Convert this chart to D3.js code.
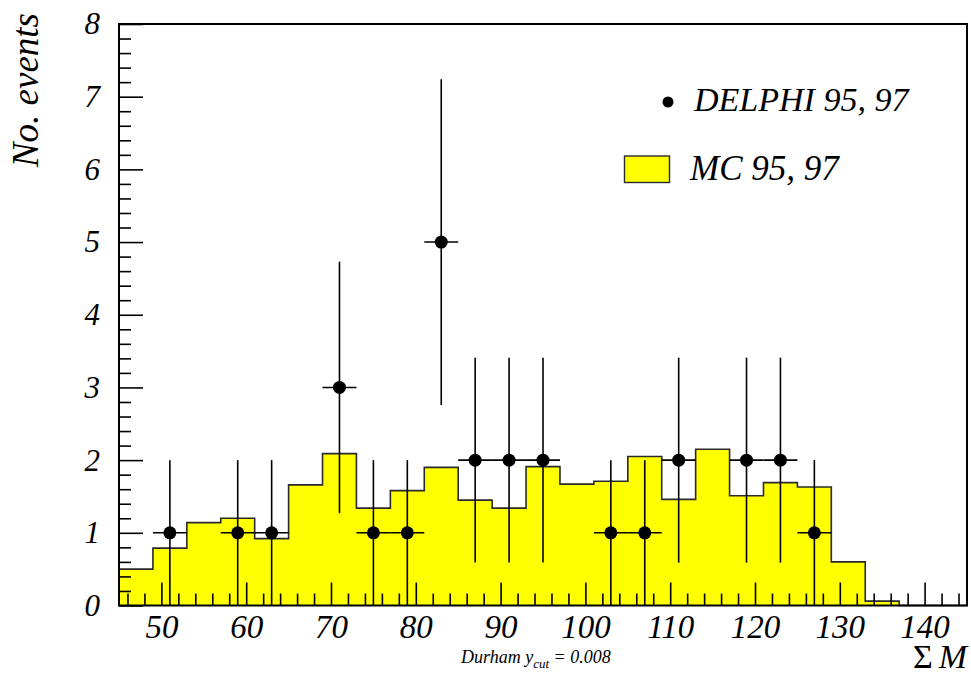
<!DOCTYPE html>
<html>
<head>
<meta charset="utf-8">
<script src="https://cdn.jsdelivr.net/npm/d3@7"></script>
</head>
<body style="margin:0">
<svg id="chart" width="971" height="674" font-family="Liberation Serif, Times New Roman, serif" font-style="italic"></svg>
<script>
// Monte Carlo histogram: 4-unit bins from 45 to 145
const binEdges = [45, 49, 53, 57, 61, 65, 69, 73, 77, 81, 85, 89, 93, 97, 101,
                  105, 109, 113, 117, 121, 125, 129, 133, 137, 141, 145];
const mcCounts = [0.50, 0.79, 1.14, 1.20, 0.92, 1.66, 2.09, 1.34, 1.58, 1.90,
                  1.45, 1.34, 1.91, 1.67, 1.71, 2.05, 1.46, 2.15, 1.51, 1.69,
                  1.63, 0.60, 0.06, 0, 0];

// DELPHI data points (bin centres), counts and their errors
const dataX = [51, 59, 63, 71, 75, 79, 83, 87, 91, 95, 103, 107, 111, 119, 123, 127];
const dataN = [1, 1, 1, 3, 1, 1, 5, 2, 2, 2, 1, 1, 2, 2, 2, 1];
const dataErr = [1, 1, 1, 1.73, 1, 1, 2.24, 1.41, 1.41, 1.41, 1, 1, 1.41, 1.41, 1.41, 1];
const dataHalfWidth = [2, 2, 2, 2, 2, 2, 2, 2, 2, 2, 2, 2, 2, 2, 2, 2];

// Axis ticks and labels
const xMajorTicks = [50, 60, 70, 80, 90, 100, 110, 120, 130, 140];
const xMinorTicks = d3.range(46, 145, 2).filter(v => v % 10 !== 0);
const yMajorTicks = [0, 1, 2, 3, 4, 5, 6, 7, 8];
const yMinorTicks = d3.range(0, 8.001, 0.2).map(v => +v.toFixed(1)).filter(v => Math.abs(v - Math.round(v)) > 1e-6);

const legendLabels = ["DELPHI 95, 97", "MC 95, 97"];
const yTitle = "No. events";

const svg = d3.select("#chart");
const padL = 119, padR = 967, padT = 24, padB = 605.5;

const x = d3.scaleLinear().domain([45, 145]).range([padL, padR]);
const y = d3.scaleLinear().domain([0, 8]).range([padB, padT]);

// ---- Histogram (filled step shape) ----
const stepPts = [];
mcCounts.forEach((v, i) => {
  stepPts.push([binEdges[i], v]);
  stepPts.push([binEdges[i + 1], v]);
});
const stepLine = d3.line().x(d => x(d[0])).y(d => y(d[1]));
const area = d3.area().x(d => x(d[0])).y0(y(0)).y1(d => y(d[1]));

svg.append("path")
  .attr("d", area(stepPts))
  .attr("fill", "#ffff00");
svg.append("path")
  .attr("d", stepLine(stepPts))
  .attr("fill", "none")
  .attr("stroke", "#2a2a2a")
  .attr("stroke-width", 1.6);

// ---- Axes with inward ticks ----
const gx = svg.append("g").attr("transform", `translate(0,${padB})`);
gx.append("g").call(d3.axisBottom(x).tickValues(xMinorTicks).tickSize(-12).tickFormat(""))
  .call(g => g.select(".domain").remove());
gx.append("g").attr("class", "xmajor")
  .call(d3.axisBottom(x).tickValues(xMajorTicks).tickSize(-23).tickPadding(0).tickFormat(d3.format("d")))
  .call(g => g.select(".domain").remove());
gx.selectAll("g").attr("font-family", null).attr("font-size", null);
gx.selectAll(".tick line").attr("stroke", "#000").attr("stroke-width", 1.6);
gx.selectAll(".xmajor text")
  .attr("y", 32).attr("dy", null)
  .attr("font-size", 33).attr("fill", "#000");

const gy = svg.append("g").attr("transform", `translate(${padL},0)`);
gy.append("g").call(d3.axisLeft(y).tickValues(yMinorTicks).tickSize(-12).tickFormat(""))
  .call(g => g.select(".domain").remove());
gy.append("g").attr("class", "ymajor")
  .call(d3.axisLeft(y).tickValues(yMajorTicks).tickSize(-24).tickPadding(0).tickFormat(d3.format("d")))
  .call(g => g.select(".domain").remove());
gy.selectAll("g").attr("font-family", null).attr("font-size", null);
gy.selectAll(".tick line").attr("stroke", "#000").attr("stroke-width", 1.6);
gy.selectAll(".ymajor text")
  .attr("x", -19).attr("dy", "0.32em")
  .attr("text-anchor", "end")
  .attr("font-size", 31).attr("fill", "#000");

// ---- Frame ----
svg.append("rect")
  .attr("x", x(45)).attr("y", y(8))
  .attr("width", x(145) - x(45)).attr("height", y(0) - y(8))
  .attr("fill", "none").attr("stroke", "#000").attr("stroke-width", 2);

// ---- Data points with error bars ----
const pts = dataX.map((v, i) => ({ x: v, n: dataN[i], e: dataErr[i], h: dataHalfWidth[i] }));
const gp = svg.append("g");
gp.selectAll("line.v").data(pts).join("line").attr("class", "v")
  .attr("x1", d => x(d.x)).attr("x2", d => x(d.x))
  .attr("y1", d => y(Math.max(0, d.n - d.e))).attr("y2", d => y(d.n + d.e))
  .attr("stroke", "#000").attr("stroke-width", 1.6);
gp.selectAll("line.h").data(pts).join("line").attr("class", "h")
  .attr("x1", d => x(d.x - d.h)).attr("x2", d => x(d.x + d.h))
  .attr("y1", d => y(d.n)).attr("y2", d => y(d.n))
  .attr("stroke", "#000").attr("stroke-width", 1.6);
gp.selectAll("circle").data(pts).join("circle")
  .attr("cx", d => x(d.x)).attr("cy", d => y(d.n)).attr("r", 6.5)
  .attr("fill", "#000");

// ---- Legend ----
svg.append("circle").attr("cx", 668).attr("cy", 102).attr("r", 5.5).attr("fill", "#000");
svg.append("text").attr("font-size", 34).attr("x", 694).attr("y", 111).text(legendLabels[0]);
svg.append("rect").attr("x", 624.5).attr("y", 156).attr("width", 45).attr("height", 26.5)
  .attr("fill", "#ffff00").attr("stroke", "#2a2a2a").attr("stroke-width", 1.4);
svg.append("text").attr("font-size", 35).attr("x", 690).attr("y", 180).text(legendLabels[1]);

// ---- Axis titles ----
svg.append("text").attr("font-size", 37)
  .attr("transform", "translate(38,13) rotate(-90)")
  .attr("text-anchor", "end")
  .text(yTitle);

const xt = svg.append("text").attr("font-size", 34).attr("x", 967).attr("y", 668).attr("text-anchor", "end");
xt.append("tspan").attr("font-style", "normal").text("\u03A3");
xt.append("tspan").attr("dx", 6).text("M");

const note = svg.append("text").attr("font-size", 18).attr("x", 461).attr("y", 663);
note.append("tspan").text("Durham y");
note.append("tspan").attr("dy", 5).attr("font-size", 13).text("cut");
note.append("tspan").attr("dy", -5).text(" = 0.008");
</script>
</body>
</html>
